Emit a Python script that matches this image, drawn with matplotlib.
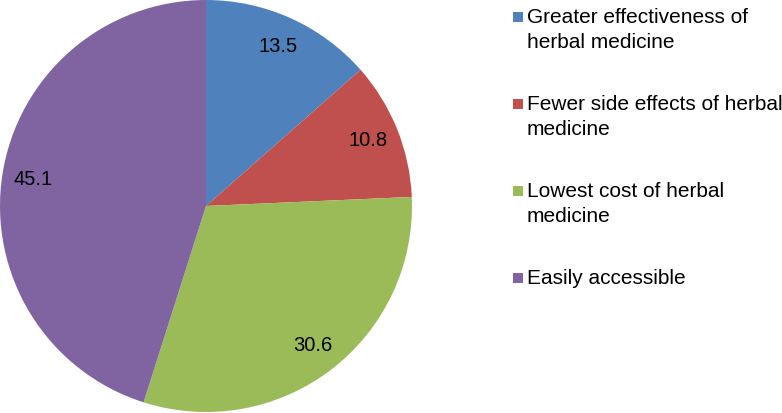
import matplotlib.pyplot as plt
from matplotlib.patches import Rectangle

plt.rcParams['font.family'] = ['Liberation Sans', 'DejaVu Sans']

LABELS = ['Greater effectiveness of\nherbal medicine',
          'Fewer side effects of herbal\nmedicine',
          'Lowest cost of herbal\nmedicine',
          'Easily accessible']
VALUES = [13.5, 10.8, 30.6, 45.1]
COLORS = ['#4F81BD', '#C0504D', '#9BBB59', '#8064A2']

W, H = 782, 413
fig = plt.figure(figsize=(W / 100, H / 100), dpi=100)

# pie axes, circle centre ~ (206, 206) px, radius ~ 206 px
ax = fig.add_axes([0, 1 / H, 412 / W, 412 / H])
wedges, texts, autotexts = ax.pie(
    VALUES, colors=COLORS, startangle=90, counterclock=False,
    autopct=lambda p: '%.1f' % p, pctdistance=0.85,
    wedgeprops=dict(linewidth=0), textprops=dict(fontsize=14.5, color='black'))
ax.set_xlim(-1, 1)
ax.set_ylim(-1, 1)
ax.set_aspect('equal')

# legend drawn by hand so the squares sit on the first text line
LINE = 25  # px between text lines
for i, (lab, col) in enumerate(zip(LABELS, COLORS)):
    base = 23 + i * 87  # baseline of first line, px from top
    for j, line in enumerate(lab.split('\n')):
        fig.text(527 / W, 1 - (base + j * LINE) / H, line, fontsize=15,
                 va='baseline', ha='left')
    fig.patches.append(Rectangle((513 / W, 1 - (base - 1) / H), 10 / W, 10 / H,
                                 transform=fig.transFigure, facecolor=col,
                                 edgecolor='none'))

plt.savefig('out.png', dpi=100)
